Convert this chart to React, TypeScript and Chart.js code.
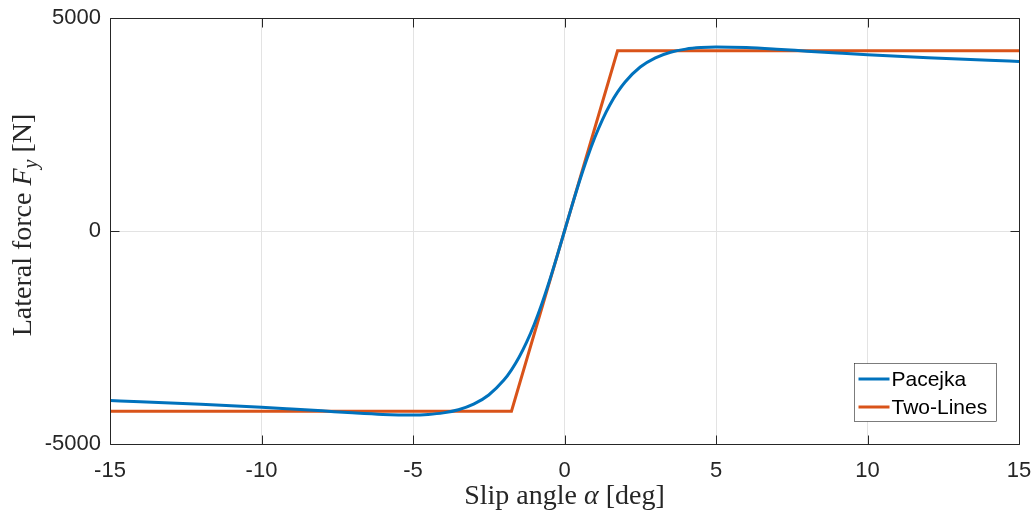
import React, { useEffect, useRef } from "react";
import { Chart, registerables } from "chart.js";

Chart.register(...registerables);

// Slip angle samples [deg] and Pacejka lateral force [N]
const slipAngles = [
  -15, -14, -13, -12, -11, -10, -9, -8, -7, -6, -5, -4.5, -4, -3.5, -3, -2.5, -2, -1.75, -1.5, -1.25, -1,
  -0.75, -0.5, -0.25, 0, 0.25, 0.5, 0.75, 1, 1.25, 1.5, 1.75, 2, 2.5, 3, 3.5, 4, 4.5, 5, 6, 7, 8, 9, 10,
  11, 12, 13, 14, 15,
];
const pacejkaForce = [
  -3980, -4006, -4035, -4066, -4100, -4136, -4178, -4222, -4268, -4305, -4319, -4305, -4269, -4196, -4065,
  -3849, -3500, -3259, -2965, -2611, -2194, -1714, -1179, -601, 0, 601, 1179, 1714, 2194, 2611, 2965, 3259,
  3500, 3849, 4065, 4196, 4269, 4305, 4319, 4305, 4268, 4222, 4178, 4136, 4100, 4066, 4035, 4006, 3980,
];

// Two-lines approximation
const twoLinesAngles = [-15, -1.75, 1.75, 15];
const twoLinesForce = [-4230, -4230, 4230, 4230];

const seriesLabels = ["Pacejka", "Two-Lines"];
const seriesColors = ["#0072BD", "#D95319"];

const xTicks = [-15, -10, -5, 0, 5, 10, 15];
const yTicks = [-5000, 0, 5000];

const LEGEND_FONT = '21px "Liberation Sans", Arial, sans-serif';
const SERIF = '"Liberation Serif", "Times New Roman", serif';
const TITLE_SIZE = 28;

type Seg = { t: string; italic?: boolean; sub?: boolean };

function drawSegs(ctx: CanvasRenderingContext2D, segs: Seg[], cx: number, baseY: number) {
  const fontFor = (s: Seg) =>
    `${s.italic ? "italic " : ""}${s.sub ? Math.round(TITLE_SIZE * 0.7) : TITLE_SIZE}px ${SERIF}`;
  let total = 0;
  for (const s of segs) {
    ctx.font = fontFor(s);
    total += ctx.measureText(s.t).width;
  }
  let x = cx - total / 2;
  ctx.textAlign = "left";
  ctx.textBaseline = "alphabetic";
  for (const s of segs) {
    ctx.font = fontFor(s);
    ctx.fillText(s.t, x, baseY + (s.sub ? TITLE_SIZE * 0.22 : 0));
    x += ctx.measureText(s.t).width;
  }
}

const framePlugin = {
  id: "matlabFrame",
  afterDatasetsDraw(chart: any) {
    const { ctx, chartArea } = chart;
    const { left, right, top, bottom } = chartArea;
    const xs = chart.scales.x;
    const ys = chart.scales.y;
    ctx.save();
    ctx.strokeStyle = "#262626";
    ctx.lineWidth = 1;
    const L = Math.round(left) + 0.5;
    const R = Math.round(right) + 0.5;
    const T = Math.round(top) + 0.5;
    const B = Math.round(bottom) + 0.5;
    ctx.beginPath();
    ctx.rect(L, T, R - L, B - T);
    ctx.stroke();
    const tl = 9;
    ctx.beginPath();
    for (const v of xTicks) {
      const px = Math.round(xs.getPixelForValue(v)) + 0.5;
      ctx.moveTo(px, B);
      ctx.lineTo(px, B - tl);
      ctx.moveTo(px, T);
      ctx.lineTo(px, T + tl);
    }
    for (const v of yTicks) {
      const py = Math.round(ys.getPixelForValue(v)) + 0.5;
      ctx.moveTo(L, py);
      ctx.lineTo(L + tl, py);
      ctx.moveTo(R, py);
      ctx.lineTo(R - tl, py);
    }
    ctx.stroke();

    // Legend (inside, south-east)
    const lx0 = 854.5;
    const ly0 = 363.5;
    const lw = 142;
    const lh = 58;
    ctx.fillStyle = "#ffffff";
    ctx.fillRect(lx0, ly0, lw, lh);
    ctx.strokeStyle = "#262626";
    ctx.lineWidth = 0.6;
    ctx.strokeRect(lx0, ly0, lw, lh);
    chart.data.datasets.forEach((ds: any, i: number) => {
      const y = ly0 + 15.5 + i * 28;
      ctx.strokeStyle = ds.borderColor;
      ctx.lineWidth = 3;
      ctx.beginPath();
      ctx.moveTo(lx0 + 4, y);
      ctx.lineTo(lx0 + 35, y);
      ctx.stroke();
      ctx.fillStyle = "#000000";
      ctx.font = LEGEND_FONT;
      ctx.textAlign = "left";
      ctx.textBaseline = "middle";
      ctx.fillText(ds.label, lx0 + 37, y + 1);
    });
    ctx.restore();
  },
  afterDraw(chart: any) {
    const { ctx, chartArea } = chart;
    ctx.save();
    ctx.fillStyle = "#262626";
    const cx = (chartArea.left + chartArea.right) / 2;
    drawSegs(ctx, [{ t: "Slip angle " }, { t: "α", italic: true }, { t: " [deg]" }], cx, 504);
    ctx.translate(31, (chartArea.top + chartArea.bottom) / 2 - 6);
    ctx.rotate(-Math.PI / 2);
    drawSegs(
      ctx,
      [{ t: "Lateral force " }, { t: "F", italic: true }, { t: "y", italic: true, sub: true }, { t: " [N]" }],
      0,
      0
    );
    ctx.restore();
  },
};

export default function App() {
  const ref = useRef<HTMLCanvasElement | null>(null);
  useEffect(() => {
    if (!ref.current) return;
    const chart = new Chart(ref.current, {
      type: "line",
      data: {
        datasets: [
          {
            label: seriesLabels[0],
            data: slipAngles.map((a, i) => ({ x: a, y: pacejkaForce[i] })),
            borderColor: seriesColors[0],
            borderWidth: 3,
            pointRadius: 0,
            cubicInterpolationMode: "monotone",
            fill: false,
          },
          {
            label: seriesLabels[1],
            data: twoLinesAngles.map((a, i) => ({ x: a, y: twoLinesForce[i] })),
            borderColor: seriesColors[1],
            borderWidth: 3,
            pointRadius: 0,
            tension: 0,
            fill: false,
          },
        ],
      },
      options: {
        responsive: false,
        animation: false,
        devicePixelRatio: 1,
        layout: { padding: { top: 18, right: 15, left: 0, bottom: 0 } },
        plugins: { legend: { display: false }, tooltip: { enabled: false } },
        scales: {
          x: {
            type: "linear",
            min: -15,
            max: 15,
            afterFit: (s: any) => {
              s.height = 69;
              s.paddingLeft = 0;
              s.paddingRight = 0;
            },
            afterBuildTicks: (s: any) => {
              s.ticks = xTicks.map((v) => ({ value: v }));
            },
            grid: { color: "#e3e3e3", drawTicks: false, tickLength: 0 },
            border: { display: false },
            ticks: {
              color: "#262626",
              font: { family: '"Liberation Sans", Arial, sans-serif', size: 22 },
              padding: 14,
              maxRotation: 0,
              autoSkip: false,
            },
          },
          y: {
            type: "linear",
            min: -5000,
            max: 5000,
            afterFit: (s: any) => {
              s.width = 110;
              s.paddingTop = 0;
              s.paddingBottom = 0;
            },
            afterBuildTicks: (s: any) => {
              s.ticks = yTicks.map((v) => ({ value: v }));
            },
            grid: { color: "#e3e3e3", drawTicks: false, tickLength: 0 },
            border: { display: false },
            ticks: {
              color: "#262626",
              font: { family: '"Liberation Sans", Arial, sans-serif', size: 22 },
              padding: 9,
              autoSkip: false,
              callback: (v: any) => String(v),
            },
          },
        },
      },
      plugins: [framePlugin],
    });
    return () => chart.destroy();
  }, []);
  return (
    <div style={{ position: "absolute", left: 0, top: 0, width: 1034, height: 513, background: "#fff" }}>
      <canvas ref={ref} width={1034} height={513} style={{ display: "block" }} />
    </div>
  );
}
